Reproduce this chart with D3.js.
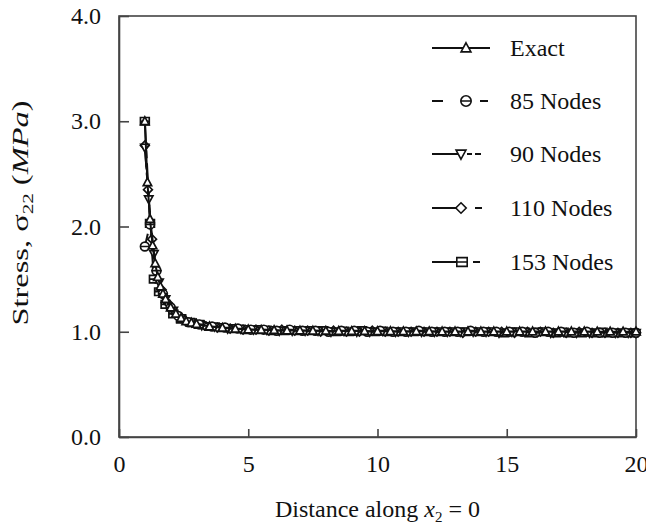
<!DOCTYPE html>
<meta charset="utf-8">
<style>
    html, body { margin: 0; padding: 0; background: #fff; }
    svg { display: block; font-family: "Liberation Serif", "Times New Roman", serif; }
</style>
<svg id="chart" width="646" height="528"></svg>
<script src="https://d3js.org/d3.v7.min.js"></script>
<script>
    // values: [distance, stress]
    const exact = [[1.0,3.00],[1.1,2.42],[1.2,2.07],[1.3,1.82],[1.4,1.65],[1.5,1.52],[1.6,1.43],[1.7,1.36],[1.8,1.31],
        [2.0,1.23],[2.2,1.17],[2.4,1.13],[2.6,1.10],[2.8,1.085],[3.0,1.074],[3.5,1.05],[4.0,1.037],[4.5,1.028],
        [5.0,1.022],[5.5,1.018],[6.0,1.015],[6.5,1.012],[7.0,1.011],[7.5,1.009],[8.0,1.008],[8.5,1.007],[9.0,1.006],
        [9.5,1.006],[10,1.005],[10.5,1.005],[11,1.004],[11.5,1.004],[12,1.004],[12.5,1.003],[13,1.003],[13.5,1.003],
        [14,1.003],[14.5,1.002],[15,1.002],[15.5,1.002],[16,1.002],[16.5,1.002],[17,1.002],[17.5,1.002],[18,1.002],
        [18.5,1.001],[19,1.001],[19.5,1.001],[20,1.001]];
    const nodes85 = [[1.0,1.81],[1.2,2.02],[1.45,1.58],[1.7,1.36],[2.0,1.23],[2.3,1.15],[2.7,1.09],[3.1,1.07],[3.6,1.05],
        [4.1,1.04],[4.6,1.03],[5.1,1.02],[5.6,1.02],[6.1,1.01],[6.6,1.02],[7.1,1.01],[7.6,1.01],[8.1,1.00],[8.6,1.01],
        [9.1,1.01],[9.6,1.00],[10.1,1.01],[10.6,1.00],[11.1,1.00],[11.6,1.01],[12.1,1.00],[12.6,1.00],[13.1,1.00],
        [13.6,1.01],[14.1,1.00],[14.6,1.00],[15.1,1.00],[15.6,1.00],[16.1,0.99],[16.6,1.00],[17.1,1.00],[17.6,0.99],
        [18.1,1.00],[18.6,0.99],[19.1,0.99],[19.6,0.99],[20,0.99]];
    const nodes90 = [[1.0,2.75],[1.15,2.26],[1.35,1.74],[1.55,1.47],[1.8,1.31],[2.1,1.20],[2.4,1.13],[2.8,1.09],[3.2,1.06],
        [3.7,1.05],[4.2,1.03],[4.7,1.03],[5.2,1.02],[5.7,1.02],[6.2,1.01],[6.7,1.01],[7.2,1.01],[7.7,1.01],[8.2,1.00],
        [8.7,1.01],[9.2,1.00],[9.7,1.00],[10.2,1.01],[10.7,1.00],[11.2,1.00],[11.7,1.00],[12.2,1.00],[12.7,1.00],
        [13.2,1.00],[13.7,1.00],[14.2,1.00],[14.7,0.99],[15.2,1.00],[15.7,1.00],[16.2,1.00],[16.7,0.99],[17.2,1.00],
        [17.7,0.99],[18.2,0.99],[18.7,1.00],[19.2,0.99],[19.7,0.99],[20,0.99]];
    const nodes110 = [[1.0,2.77],[1.12,2.35],[1.28,1.88],[1.45,1.58],[1.65,1.40],[1.9,1.27],[2.2,1.17],[2.55,1.11],
        [2.9,1.08],[3.3,1.06],[3.8,1.04],[4.3,1.03],[4.8,1.02],[5.3,1.02],[5.8,1.01],[6.3,1.02],[6.8,1.01],[7.3,1.01],
        [7.8,1.00],[8.3,1.01],[8.8,1.00],[9.3,1.00],[9.8,1.01],[10.3,1.00],[10.8,1.00],[11.3,1.00],[11.8,1.00],
        [12.3,1.00],[12.8,1.00],[13.3,0.99],[13.8,1.00],[14.3,1.00],[14.8,1.00],[15.3,0.99],[15.8,1.00],[16.3,1.00],
        [16.8,0.99],[17.3,0.99],[17.8,1.00],[18.3,0.99],[18.8,0.99],[19.3,0.99],[19.8,0.99],[20,0.99]];
    const nodes153 = [[1.0,3.00],[1.2,2.03],[1.35,1.50],[1.55,1.38],[1.8,1.26],[2.1,1.17],[2.4,1.12],[2.75,1.09],
        [3.1,1.07],[3.5,1.05],[4.0,1.04],[4.4,1.03],[4.9,1.02],[5.4,1.02],[5.9,1.01],[6.4,1.01],[6.9,1.01],[7.4,1.01],
        [7.9,1.01],[8.4,1.00],[8.9,1.00],[9.4,1.01],[9.9,1.00],[10.4,1.00],[10.9,1.00],[11.4,1.00],[11.9,1.00],
        [12.4,1.00],[12.9,1.00],[13.4,1.00],[13.9,1.00],[14.4,1.00],[14.9,0.99],[15.4,1.00],[15.9,0.99],[16.4,1.00],
        [16.9,0.99],[17.4,0.99],[17.9,0.99],[18.4,0.99],[18.9,0.99],[19.4,0.99],[19.9,0.99]];

    const seriesNames = ["Exact", "85 Nodes", "90 Nodes", "110 Nodes", "153 Nodes"];
    const xTicks = [0, 5, 10, 15, 20];
    const yTicks = [0, 1, 2, 3, 4];

    const series = [
        {name: seriesNames[0], data: exact, marker: "triUp", dash: null, legDash: null, legX2: 490, legMx: 466},
        {name: seriesNames[1], data: nodes85, marker: "circleBar", dash: "13,9", legDash: "11,37,8", legX2: 488, legMx: 466},
        {name: seriesNames[2], data: nodes90, marker: "triDown", dash: "22,4,5,3,5,4", legDash: "28,7,5,3,6,100", legX2: 482, legMx: 461},
        {name: seriesNames[3], data: nodes110, marker: "diamond", dash: "22,5,7,5", legDash: "30,13,7,100", legX2: 482, legMx: 461},
        {name: seriesNames[4], data: nodes153, marker: "squareBar", dash: "24,5,8,5", legDash: "30,11,7,100", legX2: 480, legMx: 462}
    ];

    const svg = d3.select("#chart");
    const m = {left: 119, top: 16, right: 636, bottom: 437};
    const fs = "24px";

    const x = d3.scaleLinear().domain([0, 20]).range([m.left, m.right]);
    const y = d3.scaleLinear().domain([0, 4]).range([m.bottom, m.top]);

    // frame
    svg.append("rect")
        .attr("x", m.left).attr("y", m.top)
        .attr("width", m.right - m.left).attr("height", m.bottom - m.top)
        .attr("fill", "none").attr("stroke", "#444").attr("stroke-width", 1.6);

    const xAxis = svg.append("g")
        .attr("transform", `translate(0,${m.bottom})`)
        .call(d3.axisBottom(x).tickValues(xTicks).tickSizeInner(-8).tickSizeOuter(0).tickPadding(18));
    const yAxis = svg.append("g")
        .attr("transform", `translate(${m.left},0)`)
        .call(d3.axisLeft(y).tickValues(yTicks).tickFormat(d3.format(".1f")).tickSizeInner(-10).tickSizeOuter(0).tickPadding(18));

    [xAxis, yAxis].forEach(g => {
        g.select(".domain").attr("stroke", "#444").attr("stroke-width", 1.6);
        g.selectAll(".tick line").attr("stroke", "#444").attr("stroke-width", 1.6);
        g.selectAll(".tick text").attr("fill", "#111").style("font-size", fs)
            .style("font-family", "'Liberation Serif', serif");
    });

    // marker shapes, centred on 0,0
    function markerPath(type, s) {
        const p = d3.path();
        if (type === "triUp") {
            p.moveTo(0, -s); p.lineTo(s * 0.95, s * 0.75); p.lineTo(-s * 0.95, s * 0.75); p.closePath();
        } else if (type === "triDown") {
            p.moveTo(0, s); p.lineTo(s * 0.95, -s * 0.75); p.lineTo(-s * 0.95, -s * 0.75); p.closePath();
        } else if (type === "diamond") {
            p.moveTo(0, -s); p.lineTo(s, 0); p.lineTo(0, s); p.lineTo(-s, 0); p.closePath();
        } else if (type === "circleBar") {
            p.moveTo(s, 0); p.arc(0, 0, s, 0, 2 * Math.PI); p.moveTo(-s, 0); p.lineTo(s, 0);
        } else if (type === "squareBar") {
            p.rect(-s, -s * 0.85, 2 * s, 1.7 * s); p.moveTo(-s, 0); p.lineTo(s, 0);
        }
        return p.toString();
    }

    const line = d3.line().x(d => x(d[0])).y(d => y(d[1]));

    const plot = svg.append("g");
    series.slice().reverse().forEach(s => {
        plot.append("path")
            .datum(s.data)
            .attr("d", line)
            .attr("fill", "none")
            .attr("stroke", "#111")
            .attr("stroke-width", 2)
            .attr("stroke-dasharray", s.dash);
        plot.selectAll(null)
            .data(s.data)
            .enter().append("path")
            .attr("transform", d => `translate(${x(d[0])},${y(d[1])})`)
            .attr("d", markerPath(s.marker, 4.4))
            .attr("fill", "#fff")
            .attr("stroke", "#111")
            .attr("stroke-width", 1.7);
    });

    // legend
    const legendY = [48, 101, 154, 208, 262];
    const leg = svg.append("g");
    series.forEach((s, i) => {
        const g = leg.append("g").attr("transform", `translate(0,${legendY[i]})`);
        g.append("line")
            .attr("x1", 432).attr("x2", s.legX2)
            .attr("stroke", "#111").attr("stroke-width", 1.8)
            .attr("stroke-dasharray", s.legDash);
        g.append("path")
            .attr("transform", `translate(${s.legMx},0)`)
            .attr("d", markerPath(s.marker, 5.2))
            .attr("fill", "#fff").attr("stroke", "#111").attr("stroke-width", 1.6);
        g.append("text")
            .attr("x", 510).attr("y", 8)
            .style("font-size", fs).attr("fill", "#111")
            .text(s.name);
    });

    // axis titles
    const xt = svg.append("text")
        .attr("x", (m.left + m.right) / 2).attr("y", 517)
        .attr("text-anchor", "middle")
        .style("font-size", fs).attr("fill", "#111");
    xt.append("tspan").text("Distance along ");
    xt.append("tspan").style("font-style", "italic").text("x");
    xt.append("tspan").attr("dy", 5).style("font-size", "15px").text("2");
    xt.append("tspan").attr("dy", -5).text(" = 0");

    const yt = svg.append("text")
        .attr("text-anchor", "middle")
        .style("font-size", "23px").attr("fill", "#111");
    yt.append("tspan").text("Stress, σ");
    yt.append("tspan").attr("dy", 5).style("font-size", "15px").text("22");
    yt.append("tspan").attr("dy", -5).text(" (");
    yt.append("tspan").style("font-style", "italic").text("MPa");
    yt.append("tspan").text(")");
    // the reference title is drawn stretched along its length
    const ytLen = yt.node().getComputedTextLength();
    yt.attr("transform", `translate(28,213) rotate(-90) scale(${225 / ytLen},1)`);
</script>
